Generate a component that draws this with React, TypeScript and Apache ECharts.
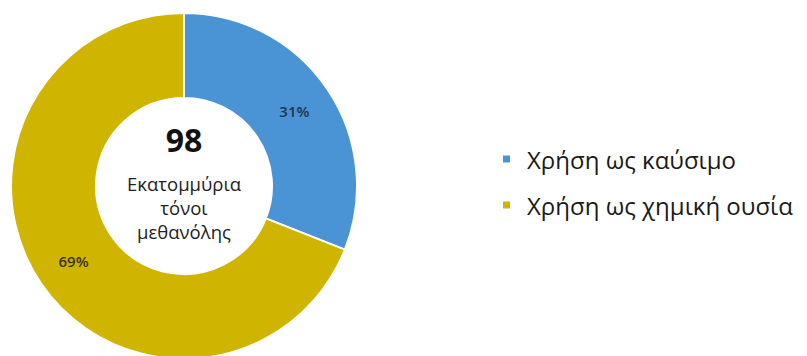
import React, { useEffect, useRef } from "react";
import * as echarts from "echarts";

const categories = ["Χρήση ως καύσιμο", "Χρήση ως χημική ουσία"];
const shares = [31, 69];
const colors = ["#4A94D6", "#CFB500"];
const totalValue = "98";
const centerLines = ["Εκατομμύρια", "τόνοι", "μεθανόλης"];

export default function App() {
  const ref = useRef<HTMLDivElement>(null);
  useEffect(() => {
    if (!ref.current) return;
    const chart = echarts.init(ref.current, null, { renderer: "svg" });
    const font = "'Open Sans', 'Noto Sans', sans-serif";
    chart.setOption({
      animation: false,
      backgroundColor: "#ffffff",
      legend: {
        orient: "vertical",
        left: 496,
        top: 142,
        icon: "rect",
        itemWidth: 9,
        itemHeight: 9,
        itemGap: 22,
        data: categories,
        textStyle: {
          fontFamily: font,
          fontSize: 24,
          color: "#1a1a1a",
          padding: [0, 0, 0, 11],
        },
      },
      graphic: [
        {
          type: "text",
          style: {
            x: 184,
            y: 139,
            text: totalValue,
            font: `bold 32px ${font}`,
            fill: "#111",
            align: "center",
            verticalAlign: "middle",
          },
        },
        ...centerLines.map((t, i) => ({
          type: "text",
          style: {
            x: 184,
            y: 183 + i * 24,
            text: t,
            font: `18.5px ${font}`,
            fill: "#222",
            align: "center",
            verticalAlign: "middle",
          },
        })),
      ],
      series: [
        {
          type: "pie",
          center: [184, 186],
          radius: [88, 173],
          startAngle: 90,
          clockwise: true,
          avoidLabelOverlap: false,
          itemStyle: { borderColor: "#ffffff", borderWidth: 2 },
          label: {
            show: true,
            position: "inside",
            formatter: "{d}%",
            fontFamily: font,
            fontSize: 15,
            fontWeight: 600,
            color: "#2a2a2a",
          },
          labelLine: { show: false },
          data: categories.map((name, i) => ({
            name,
            value: shares[i],
            itemStyle: { color: colors[i] },
            label: { color: i === 0 ? "#1f3550" : "#3a3200" },
          })),
        },
      ],
    });
    return () => chart.dispose();
  }, []);
  return (
    <div
      ref={ref}
      style={{ position: "fixed", left: 0, top: 0, width: 807, height: 356 }}
    />
  );
}
